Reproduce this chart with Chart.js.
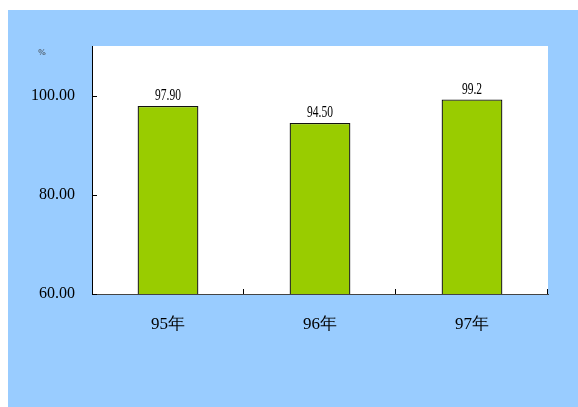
<!DOCTYPE html>
<html>
<head>
<meta charset="utf-8">
<script src="https://cdn.jsdelivr.net/npm/chart.js@4/dist/chart.umd.min.js"></script>
<style>
  body { margin: 0; background: #fff; }
  #chart { position: absolute; left: 8px; top: 10px; background: #99ccff; }
</style>
</head>
<body>
<canvas id="chart" width="570" height="397"></canvas>
<script>
const years = ["95年", "96年", "97年"];
const rates = [97.90, 94.50, 99.2];
const rateLabels = ["97.90", "94.50", "99.2"];
const yTicks = [60, 80, 100];
const unit = "%";

const FONT = '"Liberation Serif", serif';

// white plot area
const plotBg = {
  id: "plotBg",
  beforeDraw(chart) {
    const { ctx, chartArea: a } = chart;
    ctx.save();
    ctx.fillStyle = "#fff";
    ctx.fillRect(a.left, a.top, a.right - a.left, a.bottom - a.top);
    ctx.restore();
  }
};

// inward tick marks on both axes, value labels and the unit
const extras = {
  id: "extras",
  afterDatasetsDraw(chart) {
    const { ctx, chartArea: a, scales: { x, y } } = chart;
    ctx.save();
    ctx.strokeStyle = "#000";
    ctx.lineWidth = 1;
    ctx.beginPath();
    y.ticks.forEach(t => {
      const py = Math.round(y.getPixelForValue(t.value)) + 0.5;
      ctx.moveTo(a.left, py);
      ctx.lineTo(a.left + 5, py);
    });
    for (let i = 0; i < years.length; i++) {
      const px = Math.round(i < years.length - 1
        ? (x.getPixelForValue(i) + x.getPixelForValue(i + 1)) / 2
        : a.right) - 0.5;
      ctx.moveTo(px, a.bottom);
      ctx.lineTo(px, a.bottom - 5);
    }
    ctx.stroke();

    ctx.fillStyle = "#000";
    ctx.font = "16px " + FONT;
    ctx.textAlign = "center";
    ctx.textBaseline = "alphabetic";
    const meta = chart.getDatasetMeta(0);
    meta.data.forEach((bar, i) => {
      ctx.save();
      ctx.translate(bar.x, bar.y - 6);
      ctx.scale(0.72, 1);
      ctx.fillText(rateLabels[i], 0, 0);
      ctx.restore();
    });

    ctx.font = "9px " + FONT;
    ctx.fillStyle = "#333";
    ctx.textBaseline = "middle";
    ctx.fillText(unit, 34, 43);
    ctx.restore();
  }
};

new Chart(document.getElementById("chart"), {
  type: "bar",
  data: {
    labels: years,
    datasets: [{
      data: rates,
      backgroundColor: "#99cc00",
      borderColor: "#111",
      borderWidth: 1.3,
      borderSkipped: false,
      categoryPercentage: 1,
      barPercentage: 0.4
    }]
  },
  options: {
    responsive: false,
    animation: false,
    layout: { padding: { left: 0, top: 36, right: 30, bottom: 0 } },
    plugins: {
      legend: { display: false },
      tooltip: { enabled: false },
      title: { display: false }
    },
    scales: {
      x: {
        grid: { display: false, drawTicks: false },
        border: { color: "#444", width: 1 },
        ticks: { color: "#000", padding: 20, font: { family: FONT, size: 17 } },
        afterFit(s) { s.height = 113; }
      },
      y: {
        min: 60,
        max: 110,
        grid: { display: false, drawTicks: false },
        border: { color: "#000", width: 1 },
        ticks: {
          stepSize: 20,
          color: "#000",
          padding: 17,
          font: { family: FONT, size: 16 },
          callback: v => v.toFixed(2)
        },
        afterBuildTicks(s) { s.ticks = yTicks.map(v => ({ value: v })); },
        afterFit(s) { s.width = 84; }
      }
    }
  },
  plugins: [plotBg, extras]
});
</script>
</body>
</html>
